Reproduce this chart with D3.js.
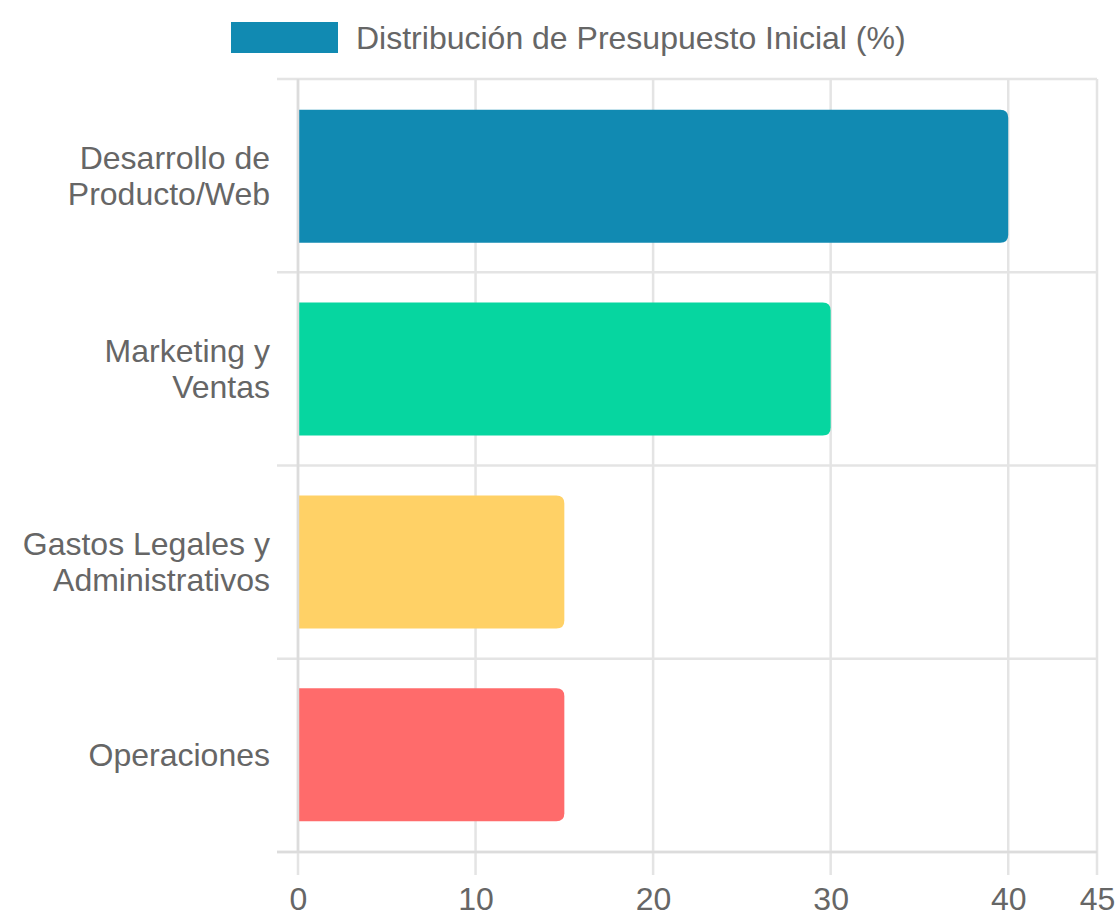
<!DOCTYPE html>
<html>
<head>
<meta charset="utf-8">
<script src="https://cdn.jsdelivr.net/npm/d3@7"></script>
<style>
  body { margin: 0; background: #fff; }
  svg text { font-family: "Liberation Sans", Arial, sans-serif; fill: #666; }
</style>
</head>
<body>
<svg id="chart" width="1117" height="916"></svg>
<script>
var categories = [
  ['Desarrollo de', 'Producto/Web'],
  ['Marketing y', 'Ventas'],
  ['Gastos Legales y', 'Administrativos'],
  ['Operaciones']
];
var values = [40, 30, 15, 15];
var barColors = ['#118AB2', '#06D6A0', '#FFD166', '#FF6B6B'];
var xTicks = [0, 10, 20, 30, 40, 45];
var seriesName = 'Distribución de Presupuesto Inicial (%)';

var plot = {left: 298, right: 1097, top: 79, bottom: 852};
var gridColor = '#e4e4e4';
var fontSize = '32px';

var svg = d3.select('#chart');

var x = d3.scaleLinear().domain([0, 45]).range([plot.left, plot.right]);
var y = d3.scaleBand()
  .domain(d3.range(categories.length))
  .range([plot.top, plot.bottom])
  .paddingInner(0.31)
  .paddingOuter(0.16);
var yBounds = d3.range(categories.length + 1).map(function(i) {
  return plot.top + i * (plot.bottom - plot.top) / categories.length;
});

// vertical gridlines (with tick marks below the axis)
svg.append('g')
  .selectAll('line')
  .data(xTicks)
  .enter().append('line')
    .attr('x1', x).attr('x2', x)
    .attr('y1', plot.top).attr('y2', plot.bottom + 23)
    .attr('stroke', gridColor)
    .attr('stroke-width', 2.5);

// horizontal gridlines at category boundaries
svg.append('g')
  .selectAll('line')
  .data(yBounds)
  .enter().append('line')
    .attr('x1', plot.left - 21).attr('x2', plot.right)
    .attr('y1', identity).attr('y2', identity)
    .attr('stroke', gridColor)
    .attr('stroke-width', 2.5);

// bars, rounded on the value end
svg.append('g')
  .selectAll('path')
  .data(values)
  .enter().append('path')
    .attr('d', getBarPath)
    .attr('fill', function(d, i) { return barColors[i]; });

// x axis labels
var xAxis = d3.axisBottom(x).tickValues(xTicks).tickSize(0).tickPadding(0);
var gx = svg.append('g')
  .attr('transform', 'translate(0,' + (plot.bottom + 58) + ')')
  .call(xAxis);
gx.select('.domain').remove();
gx.selectAll('text')
  .attr('dy', 0)
  .style('font-size', fontSize)
  .attr('fill', '#666');

// y axis labels (multi-line)
var yLabels = svg.append('g')
  .selectAll('text')
  .data(categories)
  .enter().append('text')
    .attr('text-anchor', 'end')
    .style('font-size', fontSize)
    .attr('transform', function(d, i) {
      var cy = y(i) + y.bandwidth() / 2;
      return 'translate(270,' + cy + ')';
    });
yLabels.selectAll('tspan')
  .data(function(d) { return d.map(function(line, j) { return {line: line, j: j, n: d.length}; }); })
  .enter().append('tspan')
    .attr('x', 0)
    .attr('y', function(d) { return (d.j - (d.n - 1) / 2) * 36 + 11; })
    .text(function(d) { return d.line; });

// axis lines drawn on top
svg.append('line')
  .attr('x1', plot.left).attr('x2', plot.left)
  .attr('y1', plot.top).attr('y2', plot.bottom)
  .attr('stroke', '#dcdcdc').attr('stroke-width', 2.5);
svg.append('line')
  .attr('x1', plot.left - 21).attr('x2', plot.right)
  .attr('y1', plot.bottom).attr('y2', plot.bottom)
  .attr('stroke', '#dcdcdc').attr('stroke-width', 2.5);

// legend
var legend = svg.append('g');
legend.append('rect')
  .attr('x', 231).attr('y', 22)
  .attr('width', 107).attr('height', 31)
  .attr('fill', barColors[0]);
legend.append('text')
  .attr('x', 356).attr('y', 49)
  .style('font-size', fontSize)
  .text(seriesName);

function getBarPath(v, i) {
  var x0 = x(0) + 1;
  var x1 = x(v);
  var y0 = y(i);
  var h = y.bandwidth();
  var r = 8;
  return 'M' + x0 + ',' + y0 +
    'H' + (x1 - r) +
    'Q' + x1 + ',' + y0 + ' ' + x1 + ',' + (y0 + r) +
    'V' + (y0 + h - r) +
    'Q' + x1 + ',' + (y0 + h) + ' ' + (x1 - r) + ',' + (y0 + h) +
    'H' + x0 + 'Z';
}

function identity(d) {
  return d;
}
</script>
</body>
</html>
